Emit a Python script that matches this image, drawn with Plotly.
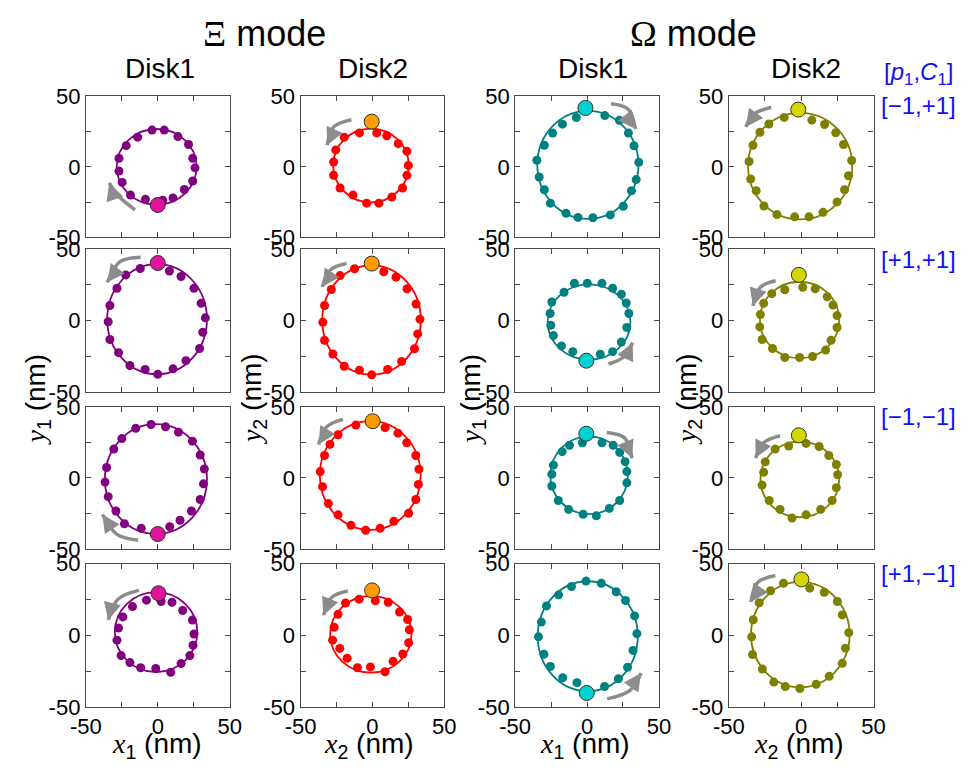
import math
import plotly.graph_objects as go

# ---------------- data ----------------
# columns: Xi-Disk1, Xi-Disk2, Omega-Disk1, Omega-Disk2 ; rows: [p1,C1] cases
row_labels = ["[\u22121,+1]", "[+1,+1]", "[\u22121,\u22121]", "[+1,\u22121]"]
col_titles = ["Disk1", "Disk2", "Disk1", "Disk2"]
mode_titles = ["\u039e", "\u03a9"]

# fitted orbit ellipse per panel: centre and half-axes (nm)
circle_cx = [[-0.8, -1.0, 0.6, -0.7], [-0.5, -0.6, 1.4, -1.1], [-1.3, -1.5, 1.4, -0.9], [-1.2, -1.1, 0.5, -0.6]]
circle_cy = [[0.0, 1.0, 1.4, 0.5], [1.1, 0.5, -0.9, 0.5], [-0.8, 1.8, 1.9, -0.9], [2.2, 0.7, -0.7, 0.5]]
circle_rx = [[27.8, 26.3, 35.2, 36.0], [34.7, 34.3, 28.8, 27.4], [35.5, 35.1, 27.0, 27.2], [28.7, 28.3, 34.8, 34.1]]
circle_ry = [[26.8, 26.1, 38.2, 37.7], [38.4, 38.2, 26.3, 26.7], [38.6, 38.2, 27.3, 26.7], [27.9, 26.8, 38.4, 36.8]]

# start position (big marker) per panel
start_x = [[0.0, -0.5, -1.1, -2.0], [0.0, -0.5, -0.5, -1.6], [0.0, 0.2, -0.5, -1.6], [0.5, -0.2, -0.2, 0.2]]
start_y = [[-27.0, 32.0, 41.7, 40.5], [40.3, 39.9, -27.9, 32.0], [-39.4, 39.9, 31.1, 30.0], [29.3, 31.3, -40.3, 39.0]]

# rotation arrows: tail, middle, head
arrow_x = [[[-15.8, -27.0, -33.8], [-14.6, -27.0, -31.5], [16.7, 28.6, 33.8], [-20.7, -32.7, -38.3]],
           [[-11.9, -26.1, -35.1], [-18.0, -29.3, -34.9], [14.9, 25.0, 31.8], [-17.6, -28.2, -33.3]],
           [[-13.7, -28.4, -38.5], [-20.5, -31.8, -37.4], [13.7, 26.1, 31.3], [-14.6, -25.9, -31.5]],
           [[-13.1, -27.7, -34.5], [-17.1, -28.4, -34.0], [14.0, 29.7, 37.6], [-17.8, -30.2, -34.7]]]
arrow_y = [[[-30.4, -21.0, -11.3], [33.3, 28.2, 15.3], [44.6, 40.8, 26.8], [42.1, 37.2, 28.2]],
           [[44.4, 41.4, 26.8], [39.9, 35.4, 23.6], [-30.2, -25.7, -15.3], [27.9, 23.4, 10.4]],
           [[-43.7, -39.6, -25.7], [41.2, 36.0, 23.6], [32.0, 28.2, 14.0], [29.7, 24.8, 14.0]],
           [[31.3, 25.2, 10.6], [30.9, 26.4, 14.0], [-44.4, -38.7, -26.4], [41.7, 36.7, 23.2]]]

# trajectory points per panel
r1c1_x = [-4, 4.5, 14, 21.4, 24.3, 25.9, 24.3, 18.5, 10.6, 3.4, -8.6, -19, -24.8, -27, -27, -22, -14]
r1c1_y = [26, 26, 21.4, 15.8, 6, -0.7, -10, -16, -22, -23.6, -23, -20, -11, -3, 6, 15, 21]
r1c2_x = [3, 10, 18, 24, 25, 24, 21, 13.5, 4.5, -4, -13.5, -22.5, -27, -27, -25.5, -19.6, -9]
r1c2_y = [24, 22, 16.4, 11, 1, -6, -15, -21.4, -25.7, -25.7, -20, -15, -6, 3.4, 12, 21, 24]
r1c3_x = [12.4, 22.5, 28.8, 32.7, 36, 34.2, 30.9, 25.2, 16.2, 4.1, -6.3, -14.6, -25.5, -29.7, -33.3, -34.9, -29.7, -23.9, -17.1, -7.4]
r1c3_y = [36.3, 32.9, 23.9, 14.9, 3.2, -9, -16.9, -27.9, -34, -36, -35.8, -32.9, -25.7, -16.2, -7.2, 4.7, 15.3, 23.9, 30.2, 34.9]
r1c4_x = [7.4, 16.2, 23.9, 29.3, 34.9, 32.7, 30, 24.8, 15.1, 5.4, -4.5, -16.7, -25.7, -31.1, -34.9, -36, -33.3, -28.5, -22.3, -11.7]
r1c4_y = [33.1, 30, 24.1, 15.8, 4.5, -6.3, -16.2, -24.8, -32.2, -35.4, -35.4, -33.8, -27.7, -16.9, -8.6, 3.8, 15.3, 24.5, 30.3, 35]
r2c1_x = [8.1, 16.2, 25.2, 30.2, 33.1, 31.3, 29.1, 19.6, 10.6, 0, -8.8, -19.4, -27.3, -33.3, -34.5, -33.3, -28.4, -22.3, -12.2]
r2c1_y = [34.7, 30.9, 22.7, 12.2, 2, -8.1, -19.4, -27.9, -33.6, -37.4, -34, -31.3, -22.3, -13.1, -0.7, 10.6, 22.7, 32, 36.5]
r2c2_x = [7.9, 16.4, 24.1, 30.4, 33.1, 31.5, 29.3, 20.3, 10.6, -0.5, -9, -19.6, -27.5, -33.3, -34.5, -33.3, -28.6, -22.5, -12.4]
r2c2_y = [34.2, 30.4, 22.3, 11.7, 1.1, -9.2, -19.6, -28.4, -34, -37.8, -34.5, -31.8, -23.2, -13.7, -1.1, 10.6, 21.8, 31.5, 36.3]
r2c3_x = [9.2, 17.8, 23.9, 27.7, 29.1, 27.3, 23.9, 17.8, 10.4, 0.2, -8.8, -16, -24.5, -25.7, -25.2, -23.4, -17.8, -9.9]
r2c3_y = [-23.4, -21.6, -14.9, -4.7, 5, 12.4, 18.5, 22.7, 26.1, 26.1, 26.1, 19.8, 13.1, 5, -3.2, -10.4, -17.6, -21.6]
r2c4_x = [1.1, 9.7, 18, 22, 24.8, 24.8, 20.7, 16.9, 7.9, -1.1, -11.3, -19.8, -27, -28.6, -28.2, -25.9, -20.3, -11.3]
r2c4_y = [23.4, 22.3, 16.7, 11, 3.6, -4.7, -13.7, -20.5, -25, -25.7, -25.7, -19.4, -13.1, -4.3, 4.3, 12.2, 18.9, 21.6]
r3c1_x = [5.4, 14.4, 24.1, 29.5, 32.4, 31.8, 29.5, 23.4, 15.5, 8.3, -11.5, -23.2, -29.1, -34.5, -36.7, -35.6, -30.6, -25, -15.3, -4.7]
r3c1_y = [36, 32.2, 25.9, 16.2, 6.3, -4.1, -15.1, -23.2, -29.7, -34.2, -35.4, -32.2, -23.2, -13.1, -2.9, 7.4, 20.3, 27.7, 34.9, 37.6]
r3c2_x = [8.8, 17.8, 23.9, 30.2, 32.4, 32, 30.2, 25.2, 14.9, 5.4, -4.7, -14.9, -23.9, -30.6, -34.7, -36.3, -33.3, -29.5, -23.9, -11.5]
r3c2_y = [35.4, 31.5, 24.8, 15.8, 6.1, -4.5, -15.1, -24.8, -30.4, -35.4, -36.7, -33.3, -25.9, -18, -6.1, 4.5, 15.8, 23.6, 30.4, 37.2]
r3c3_x = [10.4, 18.2, 22.7, 26.5, 27.7, 27.7, 22.7, 15.5, 6.5, -2.7, -12.8, -20, -24.5, -24.5, -23.4, -17.3, -12.2, -3.2]
r3c3_y = [24.8, 23, 18, 11.5, 4.5, -3.4, -15.8, -21.4, -26.6, -25.5, -22.1, -15.8, -5.6, 2.7, 9, 18.5, 23, 24.8]
r3c4_x = [3.4, 12.4, 19.1, 24.3, 25.2, 24.3, 21.4, 13.5, 3.4, -6.3, -14.6, -22.1, -27, -25.9, -24.8, -18, -8.6]
r3c4_y = [24.3, 22.1, 15.8, 9.5, 2.3, -6.8, -15.8, -22.1, -25.9, -28.2, -22.1, -15.8, -5, 4.1, 11.3, 20.3, 22.5]
r4c1_x = [2.3, 9.9, 17.3, 24.1, 25.2, 24.5, 22.3, 16.2, 9, -1.4, -11.9, -19.4, -25.5, -28.4, -27.3, -24.3, -17.6, -7.9]
r4c1_y = [23.6, 23, 17.3, 10.6, 0.9, -7, -14.2, -19.8, -25.9, -23.2, -22.7, -19.1, -14.2, -3.4, 5, 12.8, 20, 24.5]
r4c2_x = [2, 11, 18.9, 24.5, 25.7, 25.2, 21.2, 14.4, 8.8, -1.4, -10.4, -17.6, -22.7, -27.7, -26.6, -23.9, -18.7, -9.2]
r4c2_y = [24.1, 23, 16.2, 11, 3.8, -5.2, -13.1, -18.2, -25.5, -22.1, -22.7, -16, -9.2, -3.4, 5.6, 14.6, 22.5, 25.2]
r4c3_x = [12.2, 21.8, 28.2, 32, 34.7, 33.1, 26.8, 20.3, 9.9, -0.7, -10.8, -19.8, -28.2, -31.8, -33.8, -30, -25.5, -16.9, -7]
r4c3_y = [-35.8, -30.4, -22.3, -10.6, 1.1, 13.5, 24.3, 30.4, 36.3, 37.8, 34, 28.2, 20.5, 9.2, -1.1, -13.3, -21.8, -29.7, -33.1]
r4c4_x = [5.9, 16, 25, 28.4, 32.9, 30.6, 28.4, 19.4, 10.4, -0.9, -11, -18.9, -26.8, -33.6, -34.2, -33.1, -29, -21.2, -12.2]
r4c4_y = [32.9, 30, 23.6, 14.2, 1.8, -9, -19.6, -28.6, -34.2, -37.2, -35.8, -32.7, -23.6, -13.5, -1.1, 10.8, 22.7, 31.1, 36.3]

dots_x = [[r1c1_x, r1c2_x, r1c3_x, r1c4_x], [r2c1_x, r2c2_x, r2c3_x, r2c4_x],
          [r3c1_x, r3c2_x, r3c3_x, r3c4_x], [r4c1_x, r4c2_x, r4c3_x, r4c4_x]]
dots_y = [[r1c1_y, r1c2_y, r1c3_y, r1c4_y], [r2c1_y, r2c2_y, r2c3_y, r2c4_y],
          [r3c1_y, r3c2_y, r3c3_y, r3c4_y], [r4c1_y, r4c2_y, r4c3_y, r4c4_y]]

major_ticks = [-50, 0, 50]
major_text = ["-50", "0", "50"]
minor_ticks = [-25, 25]

# ---------------- styling ----------------
line_colors = ["#800080", "#ff0000", "#008080", "#808000"]
start_colors = ["#e0149c", "#ff9a00", "#00d2d2", "#d4d400"]
arrow_color = "#8c8c8c"
axis_color = "#4a4a4a"
SANS = "Liberation Sans, Arial, sans-serif"
SERIF = "Liberation Serif, Times New Roman, serif"

W, H = 970, 776
col_px = [(72, 220), (293, 441), (514, 662), (734, 883)]
row_px = [(87, 233), (245, 393), (408, 555), (570, 718)]

fig = go.Figure()
layout_axes = {}
ann = []

for r in range(4):
    for c in range(4):
        k = r * 4 + c + 1
        xa = "x" if k == 1 else f"x{k}"
        ya = "y" if k == 1 else f"y{k}"
        lc = line_colors[c]
        cx, cy = circle_cx[r][c], circle_cy[r][c]

        fig.add_shape(type="circle", xref=xa, yref=ya, layer="below",
                      x0=cx - circle_rx[r][c], x1=cx + circle_rx[r][c],
                      y0=cy - circle_ry[r][c], y1=cy + circle_ry[r][c],
                      line=dict(color=lc, width=1.8))
        fig.add_trace(go.Scatter(x=dots_x[r][c], y=dots_y[r][c], mode="markers",
                                 marker=dict(size=9, color=lc), xaxis=xa, yaxis=ya,
                                 showlegend=False, hoverinfo="skip"))
        # arrow body
        ax_, ay_ = arrow_x[r][c], arrow_y[r][c]
        fig.add_trace(go.Scatter(x=ax_, y=ay_, mode="lines",
                                 line=dict(shape="spline", color=arrow_color, width=3.5),
                                 xaxis=xa, yaxis=ya, showlegend=False, hoverinfo="skip"))
        # arrow head: oriented along the orbit tangent at the head point
        hx, hy = ax_[2], ay_[2]
        tx, ty = -(hy - cy), (hx - cx)
        if tx * (hx - ax_[1]) + ty * (hy - ay_[1]) < 0:
            tx, ty = -tx, -ty
        n = math.hypot(tx, ty)
        L = 9.0
        ann.append(dict(x=hx, y=hy, xref=xa, yref=ya, text="", showarrow=True,
                        ax=-tx / n * L, ay=ty / n * L, arrowhead=2, arrowsize=1.0,
                        arrowwidth=3.5, arrowcolor=arrow_color, standoff=0, startstandoff=0))
        fig.add_trace(go.Scatter(x=[start_x[r][c]], y=[start_y[r][c]], mode="markers",
                                 marker=dict(size=15, color=start_colors[c],
                                             line=dict(color="#303030", width=1)),
                                 xaxis=xa, yaxis=ya, showlegend=False, hoverinfo="skip"))

        x0p, x1p = col_px[c]
        y0p, y1p = row_px[r]
        common = dict(range=[-50, 50], tickmode="array", tickvals=major_ticks, ticktext=major_text,
                      ticks="inside", ticklen=5, tickwidth=1, tickcolor=axis_color,
                      minor=dict(tickvals=minor_ticks, ticks="inside", ticklen=5, tickwidth=1,
                                 tickcolor=axis_color, showgrid=False),
                      showline=True, linecolor=axis_color, linewidth=1.2, mirror="ticks",
                      showgrid=False, zeroline=False, fixedrange=True,
                      tickfont=dict(family=SANS, size=22, color="black"))
        xname = "xaxis" if k == 1 else f"xaxis{k}"
        yname = "yaxis" if k == 1 else f"yaxis{k}"
        layout_axes[xname] = dict(common, domain=[x0p / W, x1p / W], anchor=ya,
                                  showticklabels=(r == 3))
        layout_axes[yname] = dict(common, domain=[1 - y1p / H, 1 - y0p / H], anchor=xa)

fig.update_layout(**layout_axes)


def txt(text, xp, yp, size, color="black", angle=0, family=SANS):
    ann.append(dict(text=text, x=xp / W, y=1 - yp / H, xref="paper", yref="paper",
                    xanchor="center", yanchor="middle", showarrow=False, textangle=angle,
                    font=dict(family=family, size=size, color=color)))


# mode headers
txt(f"<span style='font-family:{SERIF}'>{mode_titles[0]}</span> mode", 256, 22, 36)
txt(f"<span style='font-family:{SERIF}'>{mode_titles[1]}</span> mode", 698, 22, 36)
# disk titles
for c, xc in enumerate([148, 368, 594, 813]):
    txt(col_titles[c], xc, 58, 28)
# x axis titles
for c, xc in enumerate([145, 364, 586, 806]):
    sub = "1" if c in (0, 2) else "2"
    txt(f"<span style='font-family:{SERIF}'><i>x</i></span><sub>{sub}</sub> (nm)", xc, 758, 28)
# y axis titles
for c, xc in enumerate([22, 244, 470, 692]):
    sub = "1" if c in (0, 2) else "2"
    txt(f"<span style='font-family:{SERIF}'><i>y</i></span><sub>{sub}</sub> (nm)", xc, 400, 28, angle=-90)
# right labels
blue = "#1010ff"
txt("[<i>p</i><sub>1</sub>,<i>C</i><sub>1</sub>]", 929, 64, 24, color=blue)
for r, yc in enumerate([97, 256, 418, 580]):
    txt(row_labels[r], 929, yc, 24, color=blue)

fig.update_layout(width=W, height=H, margin=dict(l=0, r=0, t=0, b=0),
                  paper_bgcolor="white", plot_bgcolor="white", annotations=ann,
                  showlegend=False)

fig.write_html("out.html")
